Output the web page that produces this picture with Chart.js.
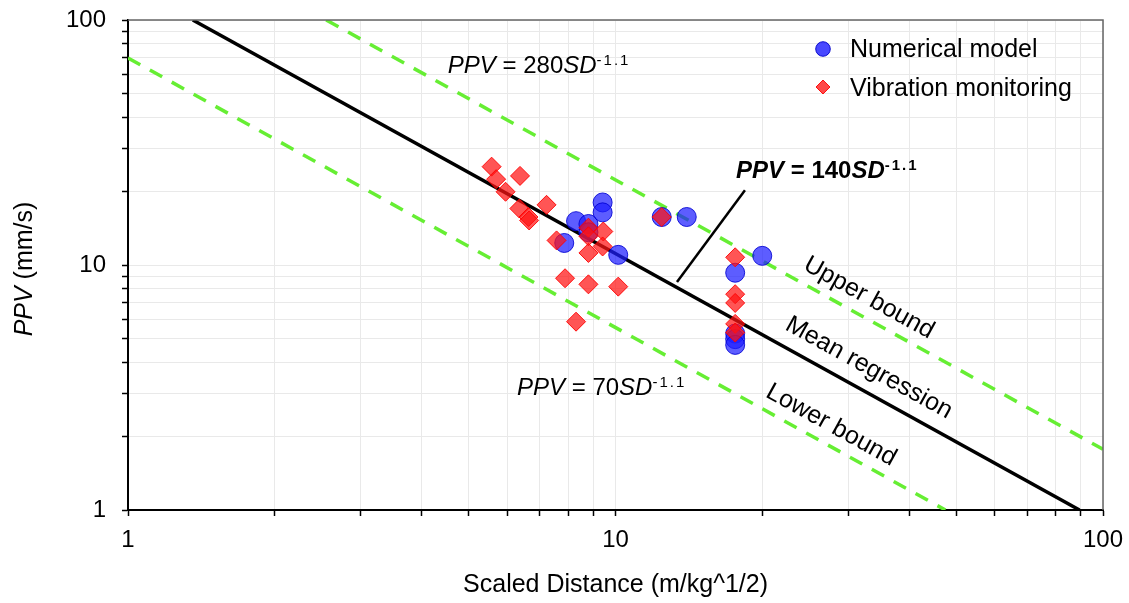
<!DOCTYPE html>
<html><head><meta charset="utf-8">
<script src="https://cdn.jsdelivr.net/npm/chart.js@4.4.1/dist/chart.umd.min.js"></script>
<style>html,body{margin:0;padding:0;background:#fff;}#wrap{width:1129px;height:603px;}</style>
</head><body><div id="wrap"><canvas id="c" width="1129" height="603"></canvas></div>
<script>
// ---- data ----
const numericalSD  = [8.30, 7.85, 8.80, 8.80, 9.41, 9.41, 10.13, 12.44, 14.0, 17.6, 20.0, 17.6, 17.6, 17.6];
const numericalPPV = [15.1, 12.3, 14.7, 13.6, 18.0, 16.4, 11.0, 15.7, 15.7, 9.3, 10.9, 5.25, 4.98, 4.72];

const monitoringSD  = [5.57, 5.69, 6.37, 5.95, 6.35, 6.63, 6.65, 7.22, 7.57, 8.80, 8.80, 9.44, 9.41, 8.80, 7.88, 8.80, 10.13, 8.30, 12.44, 17.6, 17.6, 17.6, 17.6, 17.6];
const monitoringPPV = [25.2, 22.4, 23.1, 19.9, 17.0, 15.7, 15.2, 17.6, 12.6, 14.2, 13.1, 13.7, 11.9, 11.2, 8.83, 8.34, 8.16, 5.87, 15.7, 10.75, 7.6, 7.0, 5.75, 5.3];

const meanLineSD   = [1.358, 89.5];
const meanLinePPV  = [100, 1];
const upperLineSD  = [2.55, 100];
const upperLinePPV = [100, 1.77];
const lowerLineSD  = [1, 47.5];
const lowerLinePPV = [70, 1];
const leaderSD     = [18.43, 13.37];
const leaderPPV    = [20.2, 8.52];

const tickValues = [1,2,3,4,5,6,7,8,9,10,20,30,40,50,60,70,80,90,100];
const majorTicks = [1,10,100];

const FONT = '"Liberation Sans", Arial, sans-serif';
const pts = (xs, ys) => xs.map((v, i) => ({x: v, y: ys[i]}));

// ---- overlay drawing ----
function drawRich(ctx, parts, x, yBase, size, bold) {
  let cx = x;
  for (const p of parts) {
    const sz = p.sup ? Math.round(size * 0.62) : size;
    ctx.font = (p.italic ? 'italic ' : '') + (bold ? 'bold ' : '') + sz + 'px ' + FONT;
    ctx.letterSpacing = p.sup ? '2px' : '0px';
    ctx.fillText(p.t, cx, p.sup ? yBase - 8 : yBase);
    cx += ctx.measureText(p.t).width;
  }
  ctx.letterSpacing = '0px';
}
function formula(k) {
  return [{t:'PPV', italic:true}, {t:' = ' + k}, {t:'SD', italic:true}, {t:'-1.1', sup:true}];
}

const formulaLabels = [
  {k:'280', sd:4.53,  ppv:60.8, bold:false},
  {k:'70',  sd:6.28,  ppv:2.95, bold:false},
  {k:'140', sd:17.67, ppv:22.65, bold:true}
];
const lineLabels = [
  {t:'Upper bound',     sd:33.1, ppv:7.33},
  {t:'Mean regression', sd:33.1, ppv:3.80},
  {t:'Lower bound',     sd:27.7, ppv:2.22}
];

const overlay = {
  id: 'overlay',
  afterDatasetsDraw(chart) {
    const {ctx, scales: {x, y}} = chart;
    ctx.save();
    ctx.fillStyle = '#000';
    ctx.textBaseline = 'alphabetic';
    ctx.textAlign = 'left';
    for (const f of formulaLabels) {
      drawRich(ctx, formula(f.k), x.getPixelForValue(f.sd), y.getPixelForValue(f.ppv), 24, f.bold);
    }
    const ang = Math.atan2(
      y.getPixelForValue(meanLinePPV[1]) - y.getPixelForValue(meanLinePPV[0]),
      x.getPixelForValue(meanLineSD[1]) - x.getPixelForValue(meanLineSD[0]));
    ctx.font = '25px ' + FONT;
    ctx.textAlign = 'center';
    ctx.textBaseline = 'middle';
    for (const l of lineLabels) {
      ctx.save();
      ctx.translate(x.getPixelForValue(l.sd), y.getPixelForValue(l.ppv));
      ctx.rotate(ang);
      ctx.fillText(l.t, 0, 0);
      ctx.restore();
    }
    ctx.restore();
  },
  afterDraw(chart) {
    const {ctx, chartArea: a} = chart;
    ctx.save();
    // top/right frame
    ctx.strokeStyle = '#666';
    ctx.lineWidth = 1.5;
    ctx.beginPath();
    ctx.moveTo(a.left, a.top); ctx.lineTo(a.right, a.top); ctx.lineTo(a.right, a.bottom);
    ctx.stroke();
    // legend
    ctx.fillStyle = 'rgba(40,40,255,0.85)';
    ctx.strokeStyle = 'rgba(0,0,200,0.9)';
    ctx.lineWidth = 1;
    ctx.beginPath(); ctx.arc(823, 49, 7.3, 0, Math.PI * 2); ctx.fill(); ctx.stroke();
    ctx.fillStyle = 'rgba(255,40,40,0.85)';
    ctx.strokeStyle = 'rgba(255,0,0,0.9)';
    ctx.beginPath();
    ctx.moveTo(823 - 7, 87); ctx.lineTo(823, 80); ctx.lineTo(823 + 7, 87); ctx.lineTo(823, 94); ctx.closePath();
    ctx.fill(); ctx.stroke();
    ctx.fillStyle = '#000';
    ctx.font = '25px ' + FONT;
    ctx.textAlign = 'left';
    ctx.textBaseline = 'alphabetic';
    ctx.fillText('Numerical model', 850, 57);
    ctx.fillText('Vibration monitoring', 850, 96);
    // x title
    ctx.textAlign = 'center';
    ctx.fillText('Scaled Distance (m/kg^1/2)', (a.left + a.right) / 2, 592);
    // y title
    ctx.save();
    ctx.translate(32, 269);
    ctx.rotate(-Math.PI / 2);
    ctx.textAlign = 'left';
    ctx.font = 'italic 25px ' + FONT;
    const w1 = ctx.measureText('PPV').width;
    ctx.font = '25px ' + FONT;
    const w2 = ctx.measureText(' (mm/s)').width;
    const sx = -(w1 + w2) / 2;
    ctx.font = 'italic 25px ' + FONT;
    ctx.fillText('PPV', sx, 0);
    ctx.font = '25px ' + FONT;
    ctx.fillText(' (mm/s)', sx + w1, 0);
    ctx.restore();
    ctx.restore();
  }
};

function axis(pos) {
  return {
    type: 'logarithmic', position: pos, min: 1, max: 100,
    afterBuildTicks: s => { s.ticks = tickValues.map(v => ({value: v, major: majorTicks.includes(v)})); },
    afterFit: s => {
      if (pos === 'left') s.width = 128; else s.height = 93;
      s.paddingTop = 0; s.paddingBottom = 0; s.paddingLeft = 0; s.paddingRight = 0;
    },
    ticks: {
      autoSkip: false, maxRotation: 0, minRotation: 0,
      color: '#000', font: {family: FONT, size: 24},
      padding: pos === 'left' ? 16 : 10,
      callback: v => majorTicks.some(m => Math.abs(m - v) < 1e-9) ? String(v) : ''
    },
    grid: {color: '#e9e9e9', lineWidth: 1, tickColor: '#000', tickLength: 6, tickWidth: 1.5},
    border: {color: '#000', width: 2}
  };
}

new Chart(document.getElementById('c'), {
  type: 'scatter',
  data: {
    datasets: [
      {label: 'Vibration monitoring', data: pts(monitoringSD, monitoringPPV), order: 1,
       pointStyle: 'rectRot', pointRadius: 9.5, backgroundColor: 'rgba(255,20,20,0.72)', borderColor: 'rgba(255,0,0,0.9)', borderWidth: 1},
      {label: 'Numerical model', data: pts(numericalSD, numericalPPV), order: 2,
       pointStyle: 'circle', pointRadius: 9.5, backgroundColor: 'rgba(30,30,255,0.72)', borderColor: 'rgba(0,0,210,0.85)', borderWidth: 1},
      {label: 'Mean regression', data: pts(meanLineSD, meanLinePPV), order: 3, showLine: true,
       pointRadius: 0, borderColor: '#000', borderWidth: 3.5},
      {label: 'Upper bound', data: pts(upperLineSD, upperLinePPV), order: 3, showLine: true,
       pointRadius: 0, borderColor: '#66ee33', borderWidth: 3.5, borderDash: [14, 11]},
      {label: 'Lower bound', data: pts(lowerLineSD, lowerLinePPV), order: 3, showLine: true,
       pointRadius: 0, borderColor: '#66ee33', borderWidth: 3.5, borderDash: [14, 11]},
      {label: 'Leader', data: pts(leaderSD, leaderPPV), order: 3, showLine: true,
       pointRadius: 0, borderColor: '#000', borderWidth: 2.5}
    ]
  },
  options: {
    responsive: false, animation: false, devicePixelRatio: 1,
    layout: {padding: {left: 0, top: 20, right: 26, bottom: 0}},
    plugins: {legend: {display: false}, tooltip: {enabled: false}},
    scales: {x: axis('bottom'), y: axis('left')}
  },
  plugins: [overlay]
});
</script>
</body></html>
